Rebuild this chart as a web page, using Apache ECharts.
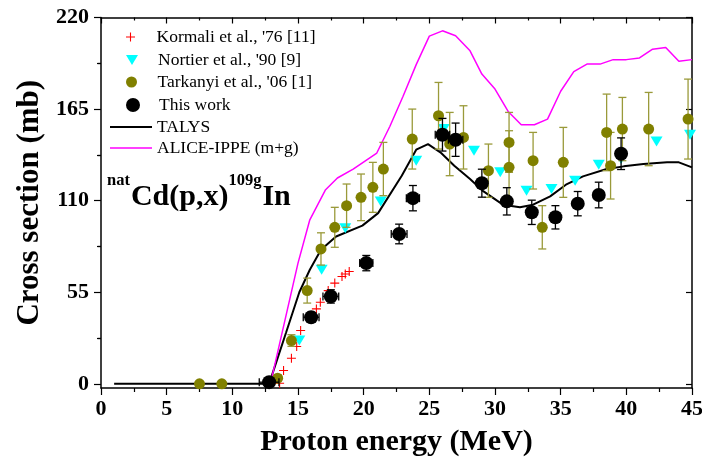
<!DOCTYPE html>
<html>
<head>
<meta charset="utf-8">
<script src="https://cdn.jsdelivr.net/npm/echarts@6.0.0/dist/echarts.min.js"></script>
<style>
  html, body { margin: 0; padding: 0; background: #fff; }
  #chart { width: 702px; height: 460px; }
</style>
</head>
<body>
<div id="chart"></div>
<script>
// Kormali et al. '76
const kormaliE = [13.6, 13.9, 14.5, 14.9, 15.2, 15.9, 16.4, 16.7, 17.3, 17.8, 18.35, 18.6, 18.9];
const kormaliXS = [0.4, 8, 15.4, 22.4, 32, 40.5, 45, 49, 56, 60.5, 64.5, 66, 67.5];

// Nortier et al. '90
const nortierE = [15.1, 16.8, 18.6, 21.3, 24.0, 26.1, 28.4, 30.4, 32.4, 34.3, 36.1, 37.9, 39.6, 42.3, 44.85];
const nortierXS = [26, 68.5, 93.5, 109.5, 134, 153, 140, 127, 116, 117, 122, 131.6, 135, 145.6, 149.6];

// Tarkanyi et al. '06
const tarkE = [7.5, 9.2, 13.45, 14.5, 15.7, 16.75, 17.8, 18.7, 19.8, 20.7, 21.5, 23.7, 25.7, 26.55, 27.6,
  29.5, 31.07, 31.07, 32.9, 33.6, 35.2, 38.5, 38.8, 39.7, 41.7, 44.7];
const tarkXS = [0, 0, 3.4, 26, 56, 81, 94, 107, 112, 118, 129, 147, 161, 144, 148,
  128, 130, 145, 134, 94, 133, 151, 131, 153, 153, 159];
const tarkErr = [1, 1, 2, 3.5, 7.5, 9.7, 12, 13, 14, 15, 16, 18, 20, 19, 19,
  16, 22, 18, 17, 13, 21, 23, 20, 19, 22, 24];

// This work
const workE = [12.8, 16.0, 17.5, 20.2, 22.7, 23.75, 26.0, 27.0, 29.0, 30.9, 32.8, 34.6, 36.3, 37.9, 39.6];
const workXS = [1, 40, 52.5, 72.5, 90, 111.5, 149.6, 146.6, 120.5, 109.6, 103, 100, 108.2, 113.4, 138.2];
const workErr = [2, 3, 4, 4.6, 5.9, 7.6, 9.8, 10, 8.4, 8.2, 7.3, 7, 7.3, 7.7, 9.5];
const workEErr = [0.75, 0.6, 0.6, 0.5, 0.6, 0.5, 0.55, 0.55, 0, 0, 0, 0, 0, 0, 0];

// TALYS
const talysE = [1, 12.8, 14.1, 15.1, 15.9, 16.75, 17.9, 19.9, 21.1, 22.9, 24.0, 24.9, 25.9, 26.9, 28.1,
  29.1, 30.6, 31.9, 32.9, 34.2, 35.4, 36.7, 38.5, 39.8, 41.3, 43.1, 44.0, 45];
const talysXS = [0, 0, 31, 55, 68.5, 80.5, 88.5, 95, 102.5, 125, 140.6, 144, 138.6, 131, 123,
  115.7, 107.6, 106, 107.6, 112.6, 119.6, 124.6, 129, 130.6, 132, 133, 133, 130];

// ALICE-IPPE (m+g)
const aliceE = [12.9, 15.0, 15.9, 17.1, 18.0, 19.2, 21.0, 22.0, 23.0, 24.0, 25.0, 26.0, 27.0, 28.1, 29.0,
  30.0, 31.0, 32.0, 33.0, 34.0, 35.0, 36.0, 37.0, 38.0, 39.0, 40.0, 41.0, 42.0, 43.0, 44.0, 45.0];
const aliceXS = [0, 72.5, 98.5, 116.6, 123.6, 129, 138.6, 154.7, 172.7, 191.7, 208.8, 212, 209, 200, 186,
  177, 163.6, 155.6, 155.6, 159, 175.7, 187.5, 192, 192, 194.7, 194.7, 195.7, 201, 202, 193.7, 194.7];

const yMajor = [0, 55, 110, 165, 220];
const yMinor = [27.5, 82.5, 137.5, 192.5];

const FONT = "'Liberation Serif', 'Times New Roman', serif";
const zip = (a, b) => a.map((v, i) => [v, b[i]]);

function errorBars(xs, ys, yerr, xerr, color, z) {
  return {
    type: "custom",
    silent: true,
    z: z,
    encode: { x: 0, y: 1 },
    data: xs.map((x, i) => [x, ys[i], yerr[i], xerr ? xerr[i] : 0]),
    renderItem: (params, api) => {
      const x = api.value(0), y = api.value(1), dy = api.value(2), dx = api.value(3);
      const style = { stroke: color, lineWidth: 1.3 };
      const cap = 4;
      const top = api.coord([x, y + dy]);
      const bot = api.coord([x, y - dy]);
      const children = [
        { type: "line", shape: { x1: top[0], y1: top[1], x2: bot[0], y2: bot[1] }, style },
        { type: "line", shape: { x1: top[0] - cap, y1: top[1], x2: top[0] + cap, y2: top[1] }, style },
        { type: "line", shape: { x1: bot[0] - cap, y1: bot[1], x2: bot[0] + cap, y2: bot[1] }, style },
      ];
      if (dx > 0) {
        const l = api.coord([x - dx, y]);
        const r = api.coord([x + dx, y]);
        children.push(
          { type: "line", shape: { x1: l[0], y1: l[1], x2: r[0], y2: r[1] }, style },
          { type: "line", shape: { x1: l[0], y1: l[1] - cap, x2: l[0], y2: l[1] + cap }, style },
          { type: "line", shape: { x1: r[0], y1: r[1] - cap, x2: r[0], y2: r[1] + cap }, style }
        );
      }
      return { type: "group", children };
    },
  };
}

// one legend per row so every icon can get its own size
// (symbol rows come out 16px further left than line rows, hence the left offset)
function legendRow(name, centerY, iconH, icon, left) {
  const item = icon ? { name, icon } : { name };
  return {
    orient: "vertical",
    left: left,
    top: centerY - 9,
    padding: 0,
    itemWidth: 42,
    itemHeight: iconH,
    selectedMode: false,
    textStyle: { fontFamily: FONT, fontSize: 17.5, color: "#000", lineHeight: 18 },
    data: [item],
  };
}

const axisLine = { show: true, onZero: false, lineStyle: { color: "#000", width: 1.5 } };
const tickStyle = { color: "#000", width: 1.2 };
const labelStyle = { fontFamily: FONT, fontWeight: "bold", fontSize: 22, color: "#000" };

const chart = echarts.init(document.getElementById("chart"));
chart.setOption({
  animation: false,
  backgroundColor: "#fff",
  grid: { left: 101, right: 10, top: 17.5, bottom: 72, outerBoundsMode: "none" },
  legend: [
    legendRow("Kormali et al., '76 [11]", 37, 9, null, 126),
    legendRow("Nortier et al., '90 [9]", 60, 10, "path://M0,0L12,0L6,10Z", 126),
    legendRow("Tarkanyi et al., '06 [1]", 82, 11, "circle", 126),
    legendRow("This work", 105, 14, "circle", 126),
    legendRow("TALYS", 127, 14, "path://M0,0H21V1H0Z", 110),
    legendRow("ALICE-IPPE (m+g)", 148, 14, "path://M0,0H28V1H0Z", 110),
  ],
  xAxis: [
    {
      type: "value", position: "bottom", min: 0, max: 45, interval: 5,
      axisLine,
      axisTick: { length: 7, lineStyle: tickStyle },
      minorTick: { show: true, splitNumber: 2, length: 4, lineStyle: tickStyle },
      splitLine: { show: false },
      axisLabel: Object.assign({ margin: 10 }, labelStyle),
      name: "Proton energy (MeV)", nameLocation: "middle", nameGap: 39,
      nameTextStyle: { fontFamily: FONT, fontWeight: "bold", fontSize: 30, color: "#000" },
    },
    {
      type: "value", position: "top", min: 0, max: 45, interval: 5,
      axisLine,
      axisTick: { inside: true, length: 6, lineStyle: tickStyle },
      minorTick: { show: true, splitNumber: 2, length: 3, lineStyle: tickStyle },
      splitLine: { show: false },
      axisLabel: { show: false },
    },
  ],
  yAxis: [
    {
      type: "value", position: "left", min: -2.5, max: 220,
      axisLine,
      axisTick: { length: 7, customValues: yMajor, lineStyle: tickStyle },
      splitLine: { show: false },
      axisLabel: Object.assign({ customValues: yMajor, margin: 12 }, labelStyle),
      name: "Cross section (mb)", nameLocation: "middle", nameGap: 56,
      nameTextStyle: { fontFamily: FONT, fontWeight: "bold", fontSize: 31, color: "#000" },
    },
    {
      type: "value", position: "left", min: -2.5, max: 220,
      axisLine: { show: false },
      axisTick: { length: 4, customValues: yMinor, lineStyle: tickStyle },
      splitLine: { show: false },
      axisLabel: { show: false },
    },
    {
      type: "value", position: "right", min: -2.5, max: 220,
      axisLine,
      axisTick: { inside: true, length: 6, customValues: yMajor, lineStyle: tickStyle },
      splitLine: { show: false },
      axisLabel: { show: false },
    },
    {
      type: "value", position: "right", min: -2.5, max: 220,
      axisLine: { show: false },
      axisTick: { inside: true, length: 3, customValues: yMinor, lineStyle: tickStyle },
      splitLine: { show: false },
      axisLabel: { show: false },
    },
  ],
  graphic: [
    {
      type: "text",
      left: 107,
      top: 172,
      style: {
        text: "{sup|nat}{big|Cd(p,x)}{sup|109g}{big|In}",
        rich: {
          sup: { fontFamily: FONT, fontWeight: "bold", fontSize: 16.5, verticalAlign: "bottom", padding: [0, 1, 23, 0], fill: "#000" },
          big: { fontFamily: FONT, fontWeight: "bold", fontSize: 30, verticalAlign: "bottom", fill: "#000" },
        },
      },
    },
  ],
  series: [
    {
      name: "TALYS", type: "line", data: zip(talysE, talysXS), symbol: "none",
      lineStyle: { color: "#000", width: 2 }, itemStyle: { color: "#000" }, z: 2,
    },
    {
      name: "ALICE-IPPE (m+g)", type: "line", data: zip(aliceE, aliceXS), symbol: "none",
      lineStyle: { color: "#ff00ff", width: 1.5 }, itemStyle: { color: "#ff00ff" }, z: 2,
    },
    {
      name: "Kormali et al., '76 [11]", type: "scatter", data: zip(kormaliE, kormaliXS),
      symbol: "path://M4.4,0H5.6V4.4H10V5.6H5.6V10H4.4V5.6H0V4.4H4.4Z", symbolSize: 9,
      itemStyle: { color: "#ff0000", opacity: 1 }, z: 3,
    },
    {
      name: "Nortier et al., '90 [9]", type: "scatter", data: zip(nortierE, nortierXS),
      symbol: "triangle", symbolRotate: 180, symbolSize: [12, 10],
      itemStyle: { color: "#00ffff", opacity: 1 }, z: 4,
    },
    errorBars(tarkE, tarkXS, tarkErr, null, "#9a9a3a", 5),
    {
      name: "Tarkanyi et al., '06 [1]", type: "scatter", data: zip(tarkE, tarkXS),
      symbol: "circle", symbolSize: 11,
      itemStyle: { color: "#808000", opacity: 1 }, z: 5,
    },
    errorBars(workE, workXS, workErr, workEErr, "#000", 6),
    {
      name: "This work", type: "scatter", data: zip(workE, workXS),
      symbol: "circle", symbolSize: 14,
      itemStyle: { color: "#000", opacity: 1 }, z: 6,
    },
  ],
});
</script>
</body>
</html>
